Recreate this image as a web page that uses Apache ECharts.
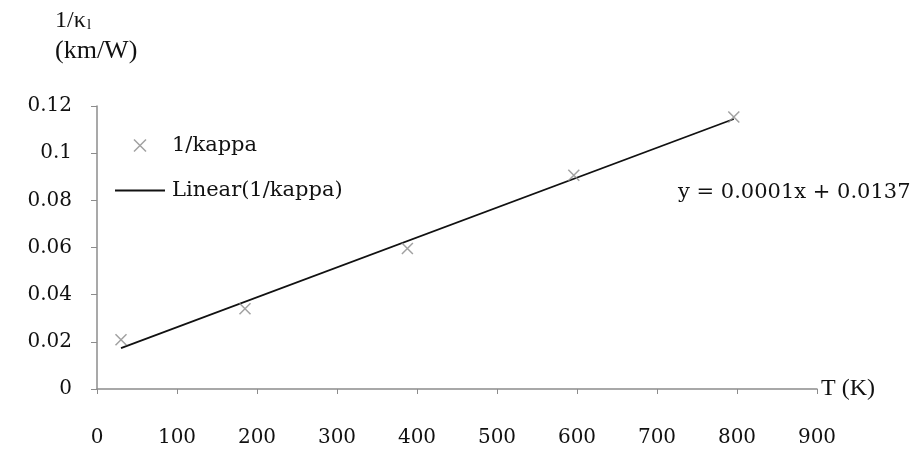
<!DOCTYPE html>
<html>
<head>
<meta charset="utf-8">
<script src="https://cdn.jsdelivr.net/npm/echarts@6/dist/echarts.min.js"></script>
<style>
html,body{margin:0;padding:0;background:#fff;}
#c{width:917px;height:455px;}
</style>
</head>
<body>
<div id="c"></div>
<script>
// Data
var tempK = [30, 185, 388, 596, 796];
var invKappa = [0.0209, 0.034, 0.0596, 0.0906, 0.1153];
var trendX = [30, 796];
var trendY = [0.0173, 0.1145];
var xTicks = [0, 100, 200, 300, 400, 500, 600, 700, 800, 900];
var yTicks = [0, 0.02, 0.04, 0.06, 0.08, 0.1, 0.12];
var equationText = 'y = 0.0001x + 0.0137';

var scatterData = tempK.map(function (t, i) { return [t, invKappa[i]]; });
var trendData = trendX.map(function (t, i) { return [t, trendY[i]]; });
var crossPath = 'path://M0,0L10,10M10,0L0,10';
var linePath = 'path://M0,0L50,0L50,1.8L0,1.8Z';

var chart = echarts.init(document.getElementById('c'), null, {renderer: 'canvas'});
var tickFont = {fontFamily: 'DejaVu Serif', fontSize: 20, color: '#111'};

chart.setOption({
  backgroundColor: '#ffffff',
  animation: false,
  legend: {
    orient: 'vertical',
    left: 115, top: 135,
    padding: 0,
    itemWidth: 50, itemHeight: 12,
    itemGap: 24,
    textStyle: {fontFamily: 'DejaVu Serif', fontSize: 21, color: '#111', padding: [0, 0, 0, 2]},
    data: [
      {name: '1/kappa', icon: crossPath, itemStyle: {color: 'none', borderColor: '#8a8a8a', borderWidth: 1.5}},
      {name: 'Linear(1/kappa)', icon: linePath, itemStyle: {color: '#111', borderWidth: 0}}
    ]
  },
  grid: {left: 97, right: 100, top: 106, bottom: 66, containLabel: false},
  xAxis: {
    type: 'value',
    min: xTicks[0], max: xTicks[xTicks.length - 1], interval: 100,
    name: 'T (K)',
    nameLocation: 'end',
    nameGap: 4,
    nameTextStyle: {fontFamily: 'Liberation Serif', fontSize: 24, color: '#111', verticalAlign: 'middle', padding: [8, 0, 0, 0]},
    axisLine: {show: true, lineStyle: {color: '#8c8c8c', width: 1.5}},
    axisTick: {show: true, length: 5, inside: false, lineStyle: {color: '#8c8c8c'}},
    axisLabel: Object.assign({margin: 39}, tickFont),
    splitLine: {show: false}
  },
  yAxis: {
    type: 'value',
    min: yTicks[0], max: yTicks[yTicks.length - 1], interval: 0.02,
    axisLine: {show: true, lineStyle: {color: '#8c8c8c', width: 1.5}},
    axisTick: {show: true, length: 6, lineStyle: {color: '#8c8c8c'}},
    axisLabel: Object.assign({margin: 25, formatter: function (v) { return String(Math.round(v * 100) / 100); }}, tickFont),
    splitLine: {show: false}
  },
  series: [
    {
      name: '1/kappa',
      type: 'scatter',
      data: scatterData,
      symbol: crossPath,
      symbolSize: 11,
      itemStyle: {color: 'none', borderColor: '#8a8a8a', borderWidth: 1.5},
      z: 3
    },
    {
      name: 'Linear(1/kappa)',
      type: 'line',
      data: trendData,
      symbol: 'none',
      lineStyle: {color: '#111', width: 1.8},
      itemStyle: {color: '#111'},
      z: 2
    }
  ],
  graphic: [
    {
      type: 'text',
      left: 55, top: 9,
      style: {text: '1/κ', fontFamily: 'Liberation Serif', fontSize: 24, fill: '#111'}
    },
    {
      type: 'text',
      left: 87, top: 18,
      style: {text: 'l', fontFamily: 'Liberation Serif', fontSize: 15, fill: '#111'}
    },
    {
      type: 'text',
      left: 55, top: 38,
      style: {text: '(km/W)', fontFamily: 'Liberation Serif', fontSize: 26, fill: '#111'}
    },
    {
      type: 'text',
      left: 678, top: 182,
      style: {text: equationText, fontFamily: 'DejaVu Serif', fontSize: 21, fill: '#111'}
    }
  ]
});
</script>
</body>
</html>
